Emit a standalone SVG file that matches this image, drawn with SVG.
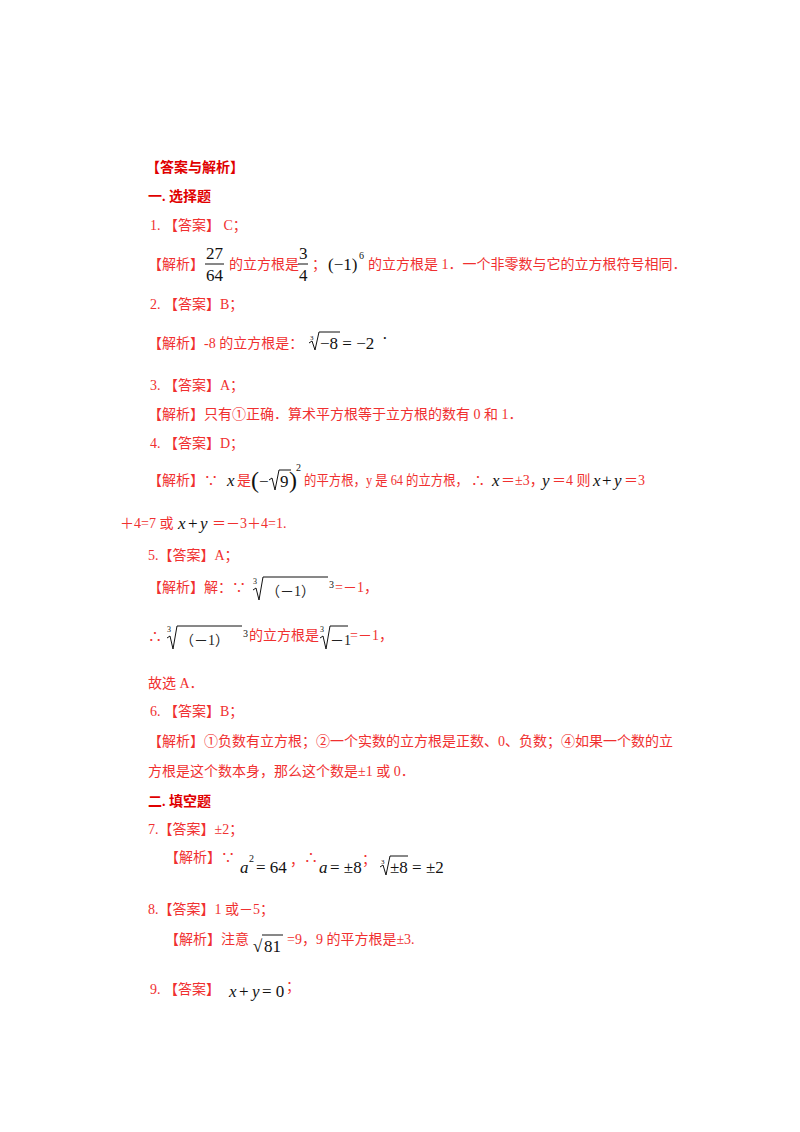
<svg xmlns="http://www.w3.org/2000/svg" width="800" height="1132" viewBox="0 0 800 1132">
<style>
text{font-family:"Liberation Serif","Noto Sans CJK SC",serif;font-size:14px;fill:#f03030}
.b{font-weight:bold;fill:#e00000}
.m{fill:#111;font-size:17px}
.i{font-style:italic}
.s{font-size:10px;fill:#111}
line,path{stroke:#111;fill:none;stroke-width:1}
</style>
<rect width="800" height="1132" fill="#fff"/>
<text class="b" x="146" y="172">【答案与解析】</text>
<text class="b" x="148" y="201">一. 选择题</text>
<text x="150" y="230">1.  【答案】 C；</text>
<text x="148" y="269">【解析】</text>
<text class="m" x="206" y="259">27</text><line x1="205" y1="264" x2="224" y2="264"/><text class="m" x="206" y="281">64</text>
<text x="229" y="269">的立方根是</text>
<text class="m" x="299" y="259">3</text><line x1="298" y1="264" x2="308" y2="264"/><text class="m" x="299" y="281">4</text>
<text x="312" y="269">；</text>
<text class="m" x="328" y="270">(−1)</text><text class="s" x="359" y="259">6</text>
<text x="368" y="269">的立方根是 1．一个非零数与它的立方根符号相同．</text>
<text x="150" y="309">2.  【答案】B；</text>
<text x="148" y="348">【解析】-8 的立方根是：</text>
<text class="s" x="310" y="340" style="font-size:7px">3</text>
<path d="M309 343 L312 341 L315 350 L319 332 L340 332"/>
<text class="m" x="320" y="349">−8 = −2</text><text class="m" x="382" y="344">·</text>
<text x="150" y="390">3.  【答案】A；</text>
<text x="148" y="419">【解析】只有①正确．算术平方根等于立方根的数有 0 和 1．</text>
<text x="150" y="448">4.  【答案】D；</text>
<text x="148" y="485">【解析】∵</text>
<text class="m i" x="227" y="486">x</text>
<text x="237" y="485">是</text>
<text class="m" x="251" y="488" style="font-size:24px">(</text>
<text class="m" x="259" y="487">−</text>
<path d="M269 480 L272 478 L275 490 L279 470 L291 470"/>
<text class="m" x="280" y="487">9</text>
<text class="m" x="289" y="488" style="font-size:24px">)</text><text class="s" x="296" y="471">2</text>
<text x="304" y="485" textLength="164" lengthAdjust="spacingAndGlyphs">的平方根，y 是 64 的立方根，</text>
<text x="471" y="485">∴</text>
<text class="m i" x="492" y="486">x</text><text x="501" y="485">＝±3，</text>
<text class="m i" x="542" y="486">y</text><text x="552" y="485">＝4 则</text>
<text class="m i" x="593" y="486">x</text><text class="m" x="602" y="486">+</text><text class="m i" x="614" y="486">y</text><text x="624" y="485">＝3</text>
<text x="120" y="528">＋4=7 或</text>
<text class="m i" x="178" y="529">x</text><text class="m" x="188" y="529">+</text><text class="m i" x="200" y="529">y</text>
<text x="212" y="528">＝－3＋4=1.</text>
<text x="148" y="560">5.【答案】A；</text>
<text x="148" y="592">【解析】解：∵</text>
<text class="s" x="253" y="584" style="font-size:8px">3</text>
<path d="M253 590 L256 588 L259 600 L263 577 L328 577"/>
<text x="266" y="596" style="fill:#222">（－1）</text><text class="s" x="329" y="588">3</text>
<text x="335" y="592">=－1，</text>
<text x="148" y="641">∴</text>
<text class="s" x="167" y="632" style="font-size:8px">3</text>
<path d="M167 638 L170 636 L173 649 L177 626 L242 626"/>
<text x="180" y="645" style="fill:#222">（－1）</text><text class="s" x="243" y="637">3</text>
<text x="249" y="640">的立方根是</text>
<text class="s" x="320" y="632" style="font-size:8px">3</text>
<path d="M320 638 L323 636 L326 649 L330 626 L348 626"/>
<text x="330" y="645" style="fill:#222">－1</text>
<text x="350" y="640">=－1，</text>
<text x="148" y="688">故选 A．</text>
<text x="150" y="716">6.  【答案】B；</text>
<text x="148" y="746">【解析】①负数有立方根；②一个实数的立方根是正数、0、负数；④如果一个数的立</text>
<text x="148" y="776">方根是这个数本身，那么这个数是±1 或 0．</text>
<text class="b" x="148" y="806">二. 填空题</text>
<text x="148" y="834">7.【答案】±2；</text>
<text x="165" y="862">【解析】∵</text>
<text class="m i" x="240" y="873">a</text><text class="s" x="249" y="862">2</text><text class="m" x="256" y="873">= 64</text><text x="290" y="865">，</text>
<text x="304" y="862">∴</text>
<text class="m i" x="319" y="873">a</text><text class="m" x="330" y="873">= ±8</text><text x="362" y="864">；</text>
<text class="s" x="381" y="864" style="font-size:7px">3</text>
<path d="M380 867 L383 865 L386 875 L390 856 L408 856"/>
<text class="m" x="390" y="873">±8 = ±2</text>
<text x="148" y="914">8.【答案】1 或－5；</text>
<text x="165" y="944">【解析】注意</text>
<text class="m" x="253" y="952">√</text><path d="M262 935 L283 935"/><text class="m" x="264" y="952">81</text>
<text x="287" y="944">=9，9 的平方根是±3.</text>
<text x="150" y="994">9.  【答案】</text>
<text class="m i" x="229" y="997">x</text><text class="m" x="239" y="997">+</text><text class="m i" x="252" y="997">y</text><text class="m" x="262" y="997">= 0</text><text x="286" y="991">；</text>
</svg>
